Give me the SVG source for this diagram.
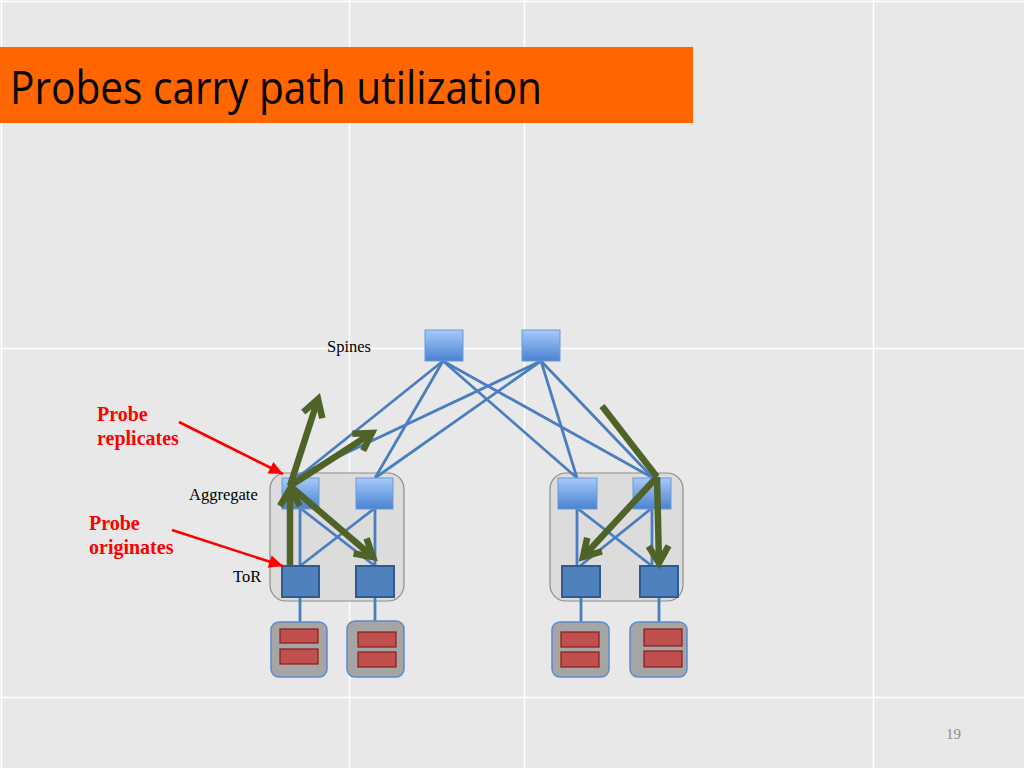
<svg xmlns="http://www.w3.org/2000/svg" width="1024" height="768" viewBox="0 0 1024 768">
<defs>
<linearGradient id="gSw" x1="0" y1="0" x2="0" y2="1">
<stop offset="0" stop-color="#a7caf8"/>
<stop offset="1" stop-color="#4a82d2"/>
</linearGradient>
<marker id="gh" markerUnits="userSpaceOnUse" viewBox="-22 -14 26 28" refX="0" refY="0" markerWidth="26" markerHeight="28" orient="auto" overflow="visible">
<path d="M-17,-10 L0,0 L-17,10" fill="none" stroke="#4f6228" stroke-width="6.5" stroke-linejoin="miter" stroke-miterlimit="4"/>
</marker>
<marker id="rh" markerUnits="userSpaceOnUse" viewBox="-14 -7 14 14" refX="0" refY="0" markerWidth="14" markerHeight="14" orient="auto" overflow="visible">
<path d="M-14,-6.5 L0,0 L-14,6.5 Z" fill="#ff0000"/>
</marker>
</defs>
<style>
.sw{fill:url(#gSw);stroke:#6b9ad6;stroke-width:1}
.tor{fill:#4f81bd;stroke:#2f5a8e;stroke-width:2}
.pod{fill:#dcdcdc;stroke:#8c8c8c;stroke-width:1.2}
.srv{fill:#a5a5a5;stroke:#5b8ccb;stroke-width:1.5}
.disk{fill:#c0504d;stroke:#8b1a1a;stroke-width:1.2}
.link{stroke:#4a7ebf;stroke-width:2.8;fill:none}
.grn{stroke:#4f6228;stroke-width:6.5;fill:none}
.red{stroke:#ff0000;stroke-width:2.6;fill:none}
.lbl{font-family:"Liberation Serif","Times New Roman",serif;font-size:16.5px;fill:#000}
.note{font-family:"Liberation Serif","Times New Roman",serif;font-size:20px;font-weight:bold;fill:#ff0000}
.grid{stroke:#ffffff;stroke-width:1.5}
</style>
<rect x="0" y="0" width="1024" height="768" fill="#e8e8e8"/>
<g id="grid">
<line class="grid" x1="0" y1="1.5" x2="1024" y2="1.5"/>
<line class="grid" x1="0" y1="348.5" x2="1024" y2="348.5"/>
<line class="grid" x1="0" y1="697.5" x2="1024" y2="697.5"/>
<line class="grid" x1="1.5" y1="0" x2="1.5" y2="768"/>
<line class="grid" x1="349.5" y1="0" x2="349.5" y2="768"/>
<line class="grid" x1="524.5" y1="0" x2="524.5" y2="768"/>
<line class="grid" x1="873.5" y1="0" x2="873.5" y2="768"/>
</g>
<g id="title">
<rect x="0" y="47" width="693" height="76" fill="#ff6600"/>
<text x="10" y="104" font-family="'Open Sans','Noto Sans',sans-serif" font-size="46" fill="#000" textLength="532" lengthAdjust="spacingAndGlyphs">Probes carry path utilization</text>
</g>
<g id="pods">
<rect id="pod-left" class="pod" x="270" y="473" width="134" height="128" rx="16"/>
<rect id="pod-right" class="pod" x="550" y="473" width="133" height="128" rx="16"/>
</g>
<g id="connectors">
<line class="link" x1="443" y1="361" x2="297" y2="478"/>
<line class="link" x1="443" y1="361" x2="375" y2="478"/>
<line class="link" x1="443" y1="361" x2="577" y2="478"/>
<line class="link" x1="443" y1="361" x2="653" y2="478"/>
<line class="link" x1="541" y1="361" x2="293" y2="478"/>
<line class="link" x1="541" y1="361" x2="375" y2="478"/>
<line class="link" x1="541" y1="361" x2="577" y2="478"/>
<line class="link" x1="541" y1="361" x2="653" y2="478"/>
<line class="link" x1="300" y1="508" x2="300" y2="566"/>
<line class="link" x1="375" y1="508" x2="375" y2="566"/>
<line class="link" x1="300" y1="508" x2="375" y2="566"/>
<line class="link" x1="375" y1="508" x2="300" y2="566"/>
<line class="link" x1="577" y1="508" x2="577" y2="566"/>
<line class="link" x1="652" y1="508" x2="652" y2="566"/>
<line class="link" x1="577" y1="508" x2="652" y2="566"/>
<line class="link" x1="652" y1="508" x2="580" y2="566"/>
<line class="link" x1="300" y1="597" x2="300" y2="622"/>
<line class="link" x1="375" y1="597" x2="375" y2="622"/>
<line class="link" x1="581" y1="597" x2="581" y2="622"/>
<line class="link" x1="659" y1="597" x2="659" y2="622"/>
</g>
<g id="spine1"><rect class="sw" x="425" y="330" width="38" height="31"/></g>
<g id="spine2"><rect class="sw" x="522" y="330" width="38" height="31"/></g>
<g id="agg-l1"><rect class="sw" x="282" y="478" width="37" height="31"/></g>
<g id="agg-l2"><rect class="sw" x="356" y="478" width="37" height="31"/></g>
<g id="agg-r1"><rect class="sw" x="558" y="478" width="39" height="31"/></g>
<g id="agg-r2"><rect class="sw" x="633" y="478" width="38" height="31"/></g>
<g id="tor-l1"><rect class="tor" x="282" y="566" width="37" height="31"/></g>
<g id="tor-l2"><rect class="tor" x="356" y="566" width="38" height="31"/></g>
<g id="tor-r1"><rect class="tor" x="562" y="566" width="38" height="31"/></g>
<g id="tor-r2"><rect class="tor" x="640" y="566" width="38" height="31"/></g>
<g id="server1">
<rect class="srv" x="271" y="622" width="56" height="55" rx="8"/>
<rect class="disk" x="280" y="629" width="38" height="14"/>
<rect class="disk" x="280" y="649" width="38" height="15"/>
</g>
<g id="server2">
<rect class="srv" x="347" y="621" width="57" height="56" rx="8"/>
<rect class="disk" x="358" y="632" width="38" height="15"/>
<rect class="disk" x="358" y="652" width="38" height="15"/>
</g>
<g id="server3">
<rect class="srv" x="552" y="622" width="57" height="55" rx="8"/>
<rect class="disk" x="561" y="632" width="38" height="15"/>
<rect class="disk" x="561" y="652" width="38" height="15"/>
</g>
<g id="server4">
<rect class="srv" x="630" y="622" width="57" height="55" rx="8"/>
<rect class="disk" x="644" y="629" width="38" height="17"/>
<rect class="disk" x="644" y="651" width="38" height="16"/>
</g>
<g id="probe-arrows">
<line class="grn" x1="290" y1="566" x2="290" y2="489" marker-end="url(#gh)"/>
<line class="grn" x1="290" y1="486" x2="318" y2="399" marker-end="url(#gh)"/>
<line class="grn" x1="290" y1="486" x2="372" y2="433" marker-end="url(#gh)"/>
<line class="grn" x1="290" y1="486" x2="373" y2="557" marker-end="url(#gh)"/>
<line class="grn" x1="602" y1="406" x2="657" y2="477"/>
<line class="grn" x1="657" y1="477" x2="583" y2="557" marker-end="url(#gh)"/>
<line class="grn" x1="657" y1="477" x2="659" y2="563" marker-end="url(#gh)"/>
</g>
<g id="labels">
<text class="lbl" x="327" y="352">Spines</text>
<text class="lbl" x="189" y="500">Aggregate</text>
<text class="lbl" x="233" y="582">ToR</text>
<text class="note" x="97" y="421">Probe</text>
<text class="note" x="97" y="445">replicates</text>
<text class="note" x="89" y="530">Probe</text>
<text class="note" x="89" y="554">originates</text>
<text x="946" y="739" font-family="'Liberation Serif','Times New Roman',serif" font-size="15" fill="#8c8c8c">19</text>
</g>
<g id="callouts">
<line class="red" x1="179" y1="422" x2="283" y2="474" marker-end="url(#rh)"/>
<line class="red" x1="172" y1="530" x2="283" y2="566" marker-end="url(#rh)"/>
</g>
</svg>
